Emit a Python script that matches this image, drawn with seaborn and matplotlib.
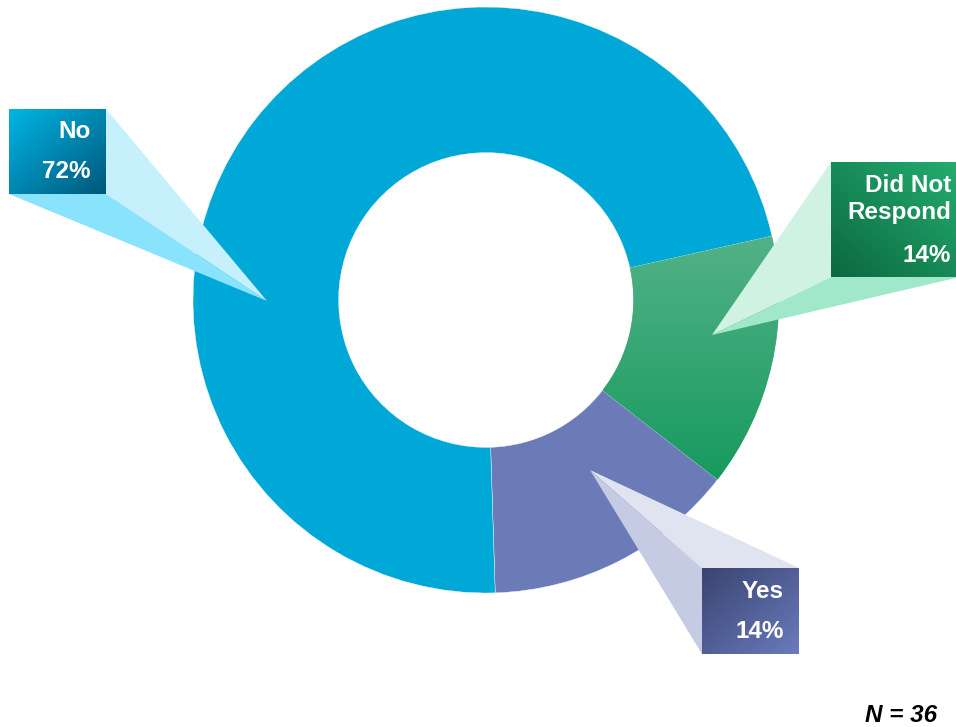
import numpy as np
import matplotlib
matplotlib.use("Agg")
import matplotlib.pyplot as plt
from matplotlib.patches import Polygon
from matplotlib.colors import to_rgb
import seaborn as sns

# Survey responses (share of respondents, %)
categories = ["Did Not Respond", "Yes", "No"]
shares = [14, 14, 72]
slice_colors = ["#2AA771", "#6B7BB8", "#00A8D8"]
respondents = 36

sns.set_theme(style="white")
plt.rcParams["font.family"] = ["Liberation Sans", "DejaVu Sans"]

W, H = 956, 727
fig = plt.figure(figsize=(W / 100, H / 100), dpi=100)

# Donut: centre (486, 300) px, outer radius 293 px
cx, cy, r = 486, 300, 293
pie_ax = fig.add_axes([(cx - r) / W, (H - cy - r) / H, 2 * r / W, 2 * r / H])
wedges, _ = pie_ax.pie(
    shares, colors=slice_colors, startangle=12.6, counterclock=False,
    radius=1.0, wedgeprops=dict(width=0.497, edgecolor="#f4f8f8", linewidth=0.3),
)
pie_ax.set_xlim(-1, 1)
pie_ax.set_ylim(-1, 1)
pie_ax.set_aspect("equal")
pie_ax.axis("off")


def gradient(c0, c1, n=256, diag=None):
    a, b = np.array(to_rgb(c0)), np.array(to_rgb(c1))
    if diag is None:
        t = np.linspace(0, 1, n)[:, None, None] * np.ones((1, 2, 1))
    else:
        yy, xx = np.mgrid[0:1:n * 1j, 0:1:n * 1j]
        t = (yy + (xx if diag == "tl" else 1 - xx)) / 2
        t = t[..., None]
    return a + (b - a) * t


# vertical shading on the "Did Not Respond" wedge
dnr = wedges[0]
img = pie_ax.imshow(gradient("#54B288", "#169A5E"), extent=(-1, 1, -0.62, 0.23),
                    origin="upper", aspect="auto", zorder=3)
img.set_clip_path(dnr)
pie_ax.set_xlim(-1, 1)
pie_ax.set_ylim(-1, 1)

# Overlay in pixel coordinates for the callouts
ov = fig.add_axes([0, 0, 1, 1])
ov.set_xlim(0, W)
ov.set_ylim(H, 0)
ov.axis("off")
ov.patch.set_alpha(0)

FS = 17.5


def callout(box, tip, faces, grad, diag, lines, ys, x_text):
    x0, y0, x1, y1 = box
    for pts, col in faces:
        ov.add_patch(Polygon(pts + [tip], closed=True, facecolor=col,
                             edgecolor="none", zorder=2))
    ov.imshow(gradient(grad[0], grad[1], diag=diag), extent=(x0, x1, y1, y0),
              origin="upper", aspect="auto", zorder=3)
    for txt, y in zip(lines, ys):
        ov.text(x_text, y, txt, ha="right", va="center", color="white",
                fontsize=FS, fontweight="bold", zorder=4)


pct = dict(zip(categories, shares))

# No
callout((9, 109, 106, 194), (267, 301),
        [([(106, 109), (106, 194)], "#C5F0FC"),
         ([(9, 194), (106, 194)], "#8AE3FC")],
        ("#00B6E6", "#00577A"), "tl",
        ["No", f"{pct['No']}%"], [131, 172], 91)

# Did Not Respond
callout((831, 162, 960, 277), (712, 335),
        [([(831, 162), (831, 277)], "#D0F2E3"),
         ([(831, 277), (960, 277)], "#A0E8C9")],
        ("#24AE70", "#0B683F"), "tr",
        ["Did Not", "Respond", f"{pct['Did Not Respond']}%"], [185, 213, 255], 951)

# Yes
callout((702, 568, 799, 654), (590, 470),
        [([(702, 568), (799, 568)], "#E0E4F0"),
         ([(702, 568), (702, 654)], "#C5CBE3")],
        ("#3A4470", "#6A7BBE"), "tl",
        ["Yes", f"{pct['Yes']}%"], [591, 632], 784)

ov.set_xlim(0, W)
ov.set_ylim(H, 0)

ov.text(937, 716, f"N = {respondents}", ha="right", va="center", color="black",
        fontsize=FS, fontweight="bold", fontstyle="italic")

fig.savefig("out.png", dpi=100, facecolor="white")
